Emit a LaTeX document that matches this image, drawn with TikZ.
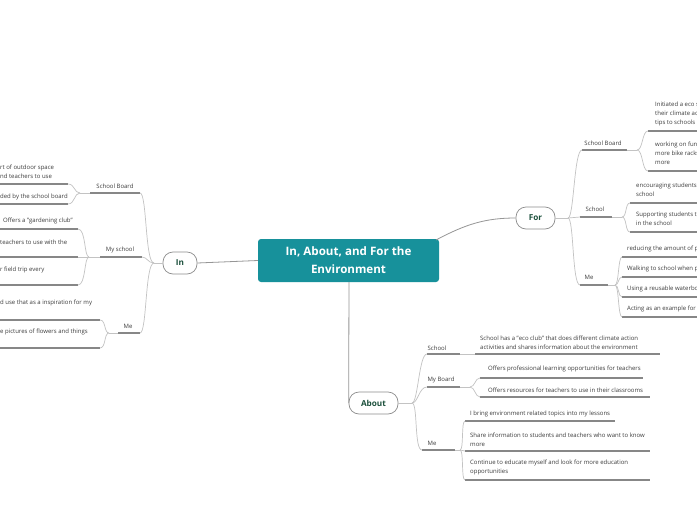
\documentclass[tikz,border=0pt]{standalone}
\usepackage{fontspec}
\usetikzlibrary{calc}
\setmainfont{Open Sans}
\definecolor{rootteal}{RGB}{23,145,155}
\definecolor{topicgreen}{RGB}{28,80,60}
\definecolor{txtgray}{RGB}{60,60,60}
\definecolor{linegray}{RGB}{195,195,195}
\definecolor{ulgray}{RGB}{135,135,135}
\definecolor{pillgray}{RGB}{140,140,140}
\definecolor{rootline}{RGB}{150,150,150}
\begin{document}
\begin{tikzpicture}[x=1pt,y=-1pt,
  conn/.style={draw=linegray, line width=0.7pt},
  mainconn/.style={draw=rootline, line width=0.8pt},
  uline/.style={draw=ulgray, line width=1.1pt},
  leaf/.style={font=\fontsize{6}{8.8}\selectfont, text=txtgray, inner sep=0pt, anchor=west, align=left},
  sub/.style={font=\fontsize{6}{7}\selectfont, text=txtgray, inner sep=0pt},
  pill/.style={draw=pillgray, fill=white, rounded corners=10pt, line width=0.7pt, font=\bfseries\fontsize{8.2}{9}\selectfont, text=topicgreen, inner sep=0pt, minimum height=22pt},
]
\useasboundingbox (0,0) rectangle (697,520);
\fill[white] (0,0) rectangle (697,520);

% ---------- root and main topics ----------
\node[fill=rootteal, rounded corners=3pt, minimum width=181pt, minimum height=43pt, text=white,
      font=\bfseries\fontsize{11.6}{18}\selectfont, align=center, inner sep=0pt] (root) at (348.5,260.5) {In, About, and For the\\Environment};
\node[pill, minimum width=34pt] (in) at (180,263) {In};
\node[pill, minimum width=39pt] (for) at (535.5,218) {For};
\node[pill, minimum width=49pt] (about) at (373.5,403) {About};
\coordinate (abTop) at (349,282);
\coordinate (forStart) at (436,240);

\draw[mainconn] (root.west) -- (in.east);
\draw[mainconn] (forStart) .. controls +(30,-16) and +(-30,0) .. (for.west);
\draw[mainconn] (abTop) -- (about.west);

% ================= IN (left) =================
\coordinate (inB) at (154,263);
\draw[conn] (in.west) -- (inB);
% School Board
\node[sub] (inSB) at (115,186) {School Board};
\coordinate (inSBa) at (90,193); \coordinate (inSBb) at (140,193);
\coordinate (inSBbr) at (80,193);
\draw[uline] (inSBa) -- (inSBb);
\draw[conn] (inB) .. controls +(-9,0) and +(7,0) .. (inSBb);
\draw[conn] (inSBbr) -- (inSBa);
\node[leaf] (inL1) at (0,172) {rt of outdoor space\\nd teachers to use};
\node[leaf] (inL2) at (0,197) {ded by the school board};
\coordinate (u1a) at (0,184); \coordinate (u1b) at (68,184);
\coordinate (u2a) at (0,204); \coordinate (u2b) at (68,204);
\draw[uline] (u1a) -- (u1b); \draw[uline] (u2a) -- (u2b);
\draw[conn] (u1b) .. controls +(7,0) and +(-6,0) .. (inSBbr);
\draw[conn] (u2b) .. controls +(7,0) and +(-6,0) .. (inSBbr);
% My school
\node[sub] (inMS) at (120,250) {My school};
\coordinate (inMSa) at (100,257); \coordinate (inMSb) at (142,257);
\coordinate (inMSbr) at (89,257);
\draw[uline] (inMSa) -- (inMSb);
\draw[conn] (inB) .. controls +(-6,0) and +(5,0) .. (inMSb);
\draw[conn] (inMSbr) -- (inMSa);
\node[leaf] (inL3) at (3,221) {Offers a "gardening club"};
\node[leaf] (inL4) at (0,242) {teachers to use with the};
\node[leaf] (inL5) at (0,270) {r field trip every};
\coordinate (u3a) at (0,229); \coordinate (u3b) at (78,229);
\coordinate (u4a) at (0,257); \coordinate (u4b) at (78,257);
\coordinate (u5a) at (0,285); \coordinate (u5b) at (78,285);
\draw[uline] (u3a) -- (u3b); \draw[uline] (u4a) -- (u4b); \draw[uline] (u5a) -- (u5b);
\draw[conn] (u3b) .. controls +(8,0) and +(-5,0) .. (inMSbr);
\draw[conn] (u4b) -- (inMSbr);
\draw[conn] (u5b) .. controls +(8,0) and +(-5,0) .. (inMSbr);
% Me
\node[sub] (inME) at (128,326) {Me};
\coordinate (inMEa) at (118,333); \coordinate (inMEb) at (140,333);
\coordinate (inMEbr) at (109,333);
\draw[uline] (inMEa) -- (inMEb);
\draw[conn] (inB) .. controls +(-9,0) and +(7,0) .. (inMEb);
\draw[conn] (inMEbr) -- (inMEa);
\node[leaf] (inL6) at (0,303) {d use that as a inspiration for my};
\node[leaf] (inL7) at (0,332) {e pictures of flowers and things};
\coordinate (u6a) at (0,320); \coordinate (u6b) at (100,320);
\coordinate (u7a) at (0,348); \coordinate (u7b) at (100,348);
\draw[uline] (u6a) -- (u6b); \draw[uline] (u7a) -- (u7b);
\draw[conn] (u6b) .. controls +(6,0) and +(-5,0) .. (inMEbr);
\draw[conn] (u7b) .. controls +(6,0) and +(-5,0) .. (inMEbr);

% ================= FOR (right) =================
\coordinate (forB) at (568,218);
\draw[conn] (for.east) -- (forB);
% School Board
\node[sub] (fSB) at (603,143) {School Board};
\coordinate (fSBa) at (582,150); \coordinate (fSBb) at (627,150);
\coordinate (fSBbr) at (637,150);
\draw[uline] (fSBa) -- (fSBb);
\draw[conn] (forB) .. controls +(6,0) and +(-8,0) .. (fSBa);
\draw[conn] (fSBb) -- (fSBbr);
\node[leaf] (fL1) at (655,114) {Initiated a eco s\\their climate ac\\tips to schools i};
\node[leaf] (fL2) at (655,153.5) {working on func\\more bike racks\\more};
\coordinate (v1a) at (648,131); \coordinate (v1b) at (697,131);
\coordinate (v2a) at (648,171); \coordinate (v2b) at (697,171);
\draw[uline] (v1a) -- (v1b); \draw[uline] (v2a) -- (v2b);
\draw[conn] (fSBbr) .. controls +(6,0) and +(-6,0) .. (v1a);
\draw[conn] (fSBbr) .. controls +(6,0) and +(-6,0) .. (v2a);
% School
\node[sub] (fSC) at (595,209) {School};
\coordinate (fSCa) at (580,217); \coordinate (fSCb) at (612,217);
\coordinate (fSCbr) at (622,217);
\draw[uline] (fSCa) -- (fSCb);
\draw[conn] (forB) -- (fSCa);
\draw[conn] (fSCb) -- (fSCbr);
\node[leaf] (fL3) at (636,189.5) {encouraging students\\school};
\node[leaf] (fL4) at (636,218.5) {Supporting students t\\in the school};
\coordinate (v3a) at (630,203); \coordinate (v3b) at (697,203);
\coordinate (v4a) at (630,232); \coordinate (v4b) at (697,232);
\draw[uline] (v3a) -- (v3b); \draw[uline] (v4a) -- (v4b);
\draw[conn] (fSCbr) .. controls +(5,0) and +(-5,0) .. (v3a);
\draw[conn] (fSCbr) .. controls +(5,0) and +(-5,0) .. (v4a);
% Me
\node[sub] (fME) at (589,277) {Me};
\coordinate (fMEa) at (580,285); \coordinate (fMEb) at (608,285);
\coordinate (fMEbr) at (615,285);
\draw[uline] (fMEa) -- (fMEb);
\draw[conn] (forB) .. controls +(6,0) and +(-8,0) .. (fMEa);
\draw[conn] (fMEb) -- (fMEbr);
\node[leaf] (fL5) at (627,249) {reducing the amount of p};
\node[leaf] (fL6) at (627,269) {Walking to school when p};
\node[leaf] (fL7) at (627,289) {Using a reusable waterbo};
\node[leaf] (fL8) at (627,309) {Acting as an example for};
\coordinate (v5a) at (622,257); \coordinate (v5b) at (697,257);
\coordinate (v6a) at (622,277); \coordinate (v6b) at (697,277);
\coordinate (v7a) at (622,297); \coordinate (v7b) at (697,297);
\coordinate (v8a) at (622,317); \coordinate (v8b) at (697,317);
\draw[uline] (v5a) -- (v5b); \draw[uline] (v6a) -- (v6b);
\draw[uline] (v7a) -- (v7b); \draw[uline] (v8a) -- (v8b);
\draw[conn] (fMEbr) .. controls +(4,0) and +(-4,0) .. (v5a);
\draw[conn] (fMEbr) .. controls +(4,0) and +(-4,0) .. (v6a);
\draw[conn] (fMEbr) .. controls +(4,0) and +(-4,0) .. (v7a);
\draw[conn] (fMEbr) .. controls +(4,0) and +(-4,0) .. (v8a);

% ================= ABOUT (bottom) =================
\coordinate (abB) at (412,403);
\draw[conn] (about.east) -- (abB);
% School
\node[sub] (aSC) at (437,348) {School};
\coordinate (aSCa) at (427,354); \coordinate (aSCb) at (460,354);
\draw[uline] (aSCa) -- (aSCb);
\draw[conn] (abB) .. controls +(6,0) and +(-8,0) .. (aSCa);
\node[leaf] (aL1) at (480,342.5) {School has a "eco club" that does different climate action\\activities and shares information about the environment};
\coordinate (w1a) at (475,354); \coordinate (w1b) at (660,354);
\draw[conn] (aSCb) -- (w1a);
\draw[uline] (w1a) -- (w1b);
% My Board
\node[sub] (aMB) at (441,380) {My Board};
\coordinate (aMBa) at (427,387); \coordinate (aMBb) at (460,387);
\coordinate (aMBbr) at (470,387);
\draw[uline] (aMBa) -- (aMBb);
\draw[conn] (abB) .. controls +(6,0) and +(-8,0) .. (aMBa);
\draw[conn] (aMBb) -- (aMBbr);
\node[leaf] (aL2) at (488,369) {Offers professional learning opportunities for teachers};
\node[leaf] (aL3) at (488,390) {Offers resources for teachers to use in their classrooms};
\coordinate (w2a) at (480,378); \coordinate (w2b) at (643,378);
\coordinate (w3a) at (480,397); \coordinate (w3b) at (650,397);
\draw[uline] (w2a) -- (w2b); \draw[uline] (w3a) -- (w3b);
\draw[conn] (aMBbr) .. controls +(5,0) and +(-5,0) .. (w2a);
\draw[conn] (aMBbr) .. controls +(5,0) and +(-5,0) .. (w3a);
% Me
\node[sub] (aME) at (432,443) {Me};
\coordinate (aMEa) at (422,450); \coordinate (aMEb) at (455,450);
\coordinate (aMEbr) at (460,450);
\draw[uline] (aMEa) -- (aMEb);
\draw[conn] (abB) .. controls +(6,0) and +(-8,0) .. (aMEa);
\draw[conn] (aMEb) -- (aMEbr);
\node[leaf] (aL4) at (470,414) {I bring environment related topics into my lessons};
\node[leaf] (aL5) at (470,439.5) {Share information to students and teachers who want to know\\more};
\node[leaf] (aL6) at (470,467.5) {Continue to educate myself and look for more education\\opportunities};
\coordinate (w4a) at (465,421); \coordinate (w4b) at (615,421);
\coordinate (w5a) at (465,451); \coordinate (w5b) at (650,451);
\coordinate (w6a) at (465,480); \coordinate (w6b) at (650,480);
\draw[uline] (w4a) -- (w4b); \draw[uline] (w5a) -- (w5b); \draw[uline] (w6a) -- (w6b);
\draw[conn] (aMEbr) .. controls +(4,0) and +(-4,0) .. (w4a);
\draw[conn] (aMEbr) -- (w5a);
\draw[conn] (aMEbr) .. controls +(4,0) and +(-4,0) .. (w6a);
\end{tikzpicture}
\end{document}
